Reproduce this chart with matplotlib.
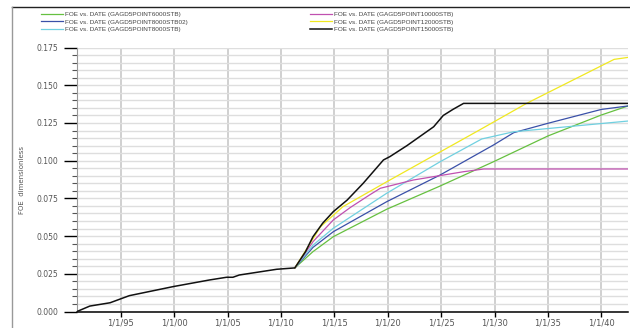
import numpy as np
import matplotlib
matplotlib.use("Agg")
import matplotlib.pyplot as plt
from matplotlib.lines import Line2D
from matplotlib.ticker import MultipleLocator, FuncFormatter

# FOE vs. DATE, x in decimal years
black_x = [1990.9, 1992.1, 1994.0, 1995.8, 1999.9, 2003.3, 2004.9, 2005.5, 2006.1,
           2009.6, 2011.3, 2012.3, 2013.0, 2013.9, 2014.9, 2016.2, 2017.7, 2019.6,
           2020.2, 2021.8, 2023.0, 2024.3, 2025.2, 2026.1, 2027.1, 2028.7, 2042.5]
black_y = [0.0, 0.0036, 0.0058, 0.0105, 0.0165, 0.0209, 0.0227, 0.0227, 0.0242,
           0.028, 0.0289, 0.0397, 0.0496, 0.0585, 0.0662, 0.0739, 0.085, 0.1005,
           0.1027, 0.110, 0.116, 0.1225, 0.130, 0.134, 0.138, 0.138, 0.138]

yellow_x = [2011.3, 2013.7, 2015.8, 2019.9, 2028.6, 2033.0, 2041.2, 2042.5]
yellow_y = [0.0289, 0.0562, 0.0695, 0.086, 0.1204, 0.138, 0.1672, 0.1685]

magenta_x = [2011.3, 2013.0, 2014.9, 2016.5, 2018.3, 2019.3, 2022.4, 2027.1, 2029.0, 2042.5]
magenta_y = [0.0289, 0.0463, 0.0607, 0.069, 0.0773, 0.0817, 0.0872, 0.0927, 0.0945, 0.0945]

cyan_x = [2011.3, 2013.0, 2014.9, 2019.9, 2024.9, 2028.8, 2031.8, 2042.5]
cyan_y = [0.0289, 0.044, 0.0552, 0.0784, 0.0993, 0.1144, 0.1192, 0.1263]

blue_x = [2011.3, 2013.0, 2014.9, 2019.9, 2024.9, 2029.9, 2031.8, 2035.0, 2040.0, 2042.5]
blue_y = [0.0289, 0.0425, 0.0529, 0.0728, 0.0905, 0.1104, 0.1186, 0.1248, 0.134, 0.1363]

green_x = [2011.3, 2013.0, 2014.9, 2019.9, 2024.9, 2029.9, 2035.0, 2040.0, 2042.5]
green_y = [0.0289, 0.0397, 0.0496, 0.0678, 0.0832, 0.0993, 0.1164, 0.1303, 0.1363]

labels = ["FOE vs. DATE (GAGD5POINT6000STB)",
          "FOE vs. DATE (GAGD5POINT8000STB02)",
          "FOE vs. DATE (GAGD5POINT8000STB)",
          "FOE vs. DATE (GAGD5POINT10000STB)",
          "FOE vs. DATE (GAGD5POINT12000STB)",
          "FOE vs. DATE (GAGD5POINT15000STB)"]
colors = ["#66c040", "#3a50a8", "#70d0e0", "#c050b0", "#f0e820", "#111111"]

fig = plt.figure(figsize=(6.3, 3.28), dpi=100)
ax = fig.add_axes([77 / 630, 1 - 311.5 / 328, 551 / 630, (311.5 - 47.6) / 328])

series = [(green_x, green_y), (blue_x, blue_y), (cyan_x, cyan_y),
          (magenta_x, magenta_y), (yellow_x, yellow_y), (black_x, black_y)]
handles = []
for (xs, ys), c, lab in zip(series, colors, labels):
    lw = 1.1 if c == "#111111" else 0.9
    h, = ax.plot(xs, ys, color=c, lw=lw, label=lab, zorder=3)
    handles.append(h)

ax.set_xlim(1990.9, 2042.5)
ax.set_ylim(0, 0.175)

ax.xaxis.set_major_locator(MultipleLocator(5))
ax.xaxis.set_major_formatter(FuncFormatter(lambda v, p: "1/1/%02d" % (int(round(v)) % 100)))
ax.yaxis.set_major_locator(MultipleLocator(0.025))
ax.yaxis.set_minor_locator(MultipleLocator(0.005))
ax.yaxis.set_major_formatter(FuncFormatter(lambda v, p: "%.3f" % v))

ax.grid(axis="x", which="major", color="#c4c4c4", lw=1.1)
ax.grid(axis="y", which="both", color="#dedede", lw=1.0)
ax.set_axisbelow(True)

for s in ["top", "right"]:
    ax.spines[s].set_visible(False)
ax.spines["left"].set_color("#999999")
ax.spines["bottom"].set_color("black")
ax.spines["bottom"].set_linewidth(1.1)

ax.tick_params(axis="y", which="major", length=9.4, width=1.0, color="black",
               pad=4.3, labelsize=5.5, labelcolor="#555555")
ax.tick_params(axis="y", which="minor", length=3.6, width=0.8, color="#555555")
ax.tick_params(axis="x", which="major", length=3.6, width=1.0, color="black",
               pad=1.5, labelsize=6, labelcolor="#555555")

ax.set_ylabel("FOE  dimensionless", fontsize=5, color="#555555")
ax.yaxis.set_label_coords(22 / 630 - 77 / 630, 0.5, transform=None)
ax.yaxis.label.set_position((0, 0.5))
fig.text(22 / 630, 1 - 179.5 / 328, "FOE  dimensionless", rotation=90,
         fontsize=5, color="#555555", ha="center", va="center")
ax.set_ylabel("")

leg_kw = dict(loc="upper left", frameon=False, fontsize=4.6, handlelength=3.4,
              handletextpad=0.3, labelspacing=0.28, borderpad=0, borderaxespad=0,
              labelcolor="#444444", prop={"family": "Liberation Sans", "size": 4.6})
leg_kw.pop("fontsize")
leg1 = fig.legend(handles=handles[:3], bbox_to_anchor=(41 / 630, 1 - 12 / 328), **leg_kw)
leg2 = fig.legend(handles=handles[3:], bbox_to_anchor=(310 / 630, 1 - 12 / 328), **leg_kw)

# frame lines of the plot window
fig.add_artist(Line2D([12 / 630, 1.0], [1 - 7 / 328, 1 - 7 / 328], color="#222222", lw=1.0,
                      transform=fig.transFigure))
fig.add_artist(Line2D([12 / 630, 12 / 630], [0, 1 - 7 / 328], color="#999999", lw=1.0,
                      transform=fig.transFigure))

fig.savefig("out.png", dpi=100)
